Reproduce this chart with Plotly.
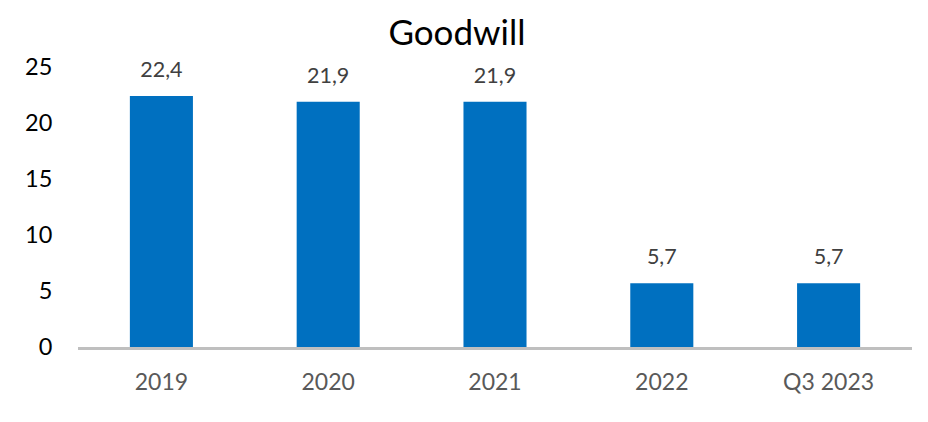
import plotly.graph_objects as go

categories = ["2019", "2020", "2021", "2022", "Q3 2023"]
values = [22.4, 21.9, 21.9, 5.7, 5.7]
labels = ["22,4", "21,9", "21,9", "5,7", "5,7"]
y_ticks = [0, 5, 10, 15, 20, 25]

FONT = "Lato, sans-serif"

fig = go.Figure()
fig.add_trace(go.Bar(
    x=categories, y=values,
    marker=dict(color="#0070C0", line=dict(width=0)),
    hoverinfo="skip",
))
fig.add_trace(go.Scatter(
    x=categories, y=values, mode="markers+text",
    text=labels, textposition="top center", cliponaxis=False,
    textfont=dict(family=FONT, size=21.5, color="#404040"),
    marker=dict(size=20, opacity=0),
    hoverinfo="skip",
))

fig.update_layout(
    width=928, height=422,
    margin=dict(l=70, r=24, t=59, b=83),
    paper_bgcolor="white", plot_bgcolor="white",
    bargap=0.622,
    showlegend=False,
    title=dict(text="Goodwill", x=0.4838, xanchor="center", y=0.941, yanchor="middle",
               font=dict(family=FONT, size=35, color="#000000")),
    font=dict(family=FONT),
)
fig.update_xaxes(
    type="category", automargin=False,
    showline=True, linecolor="#bfbfbf", linewidth=3,
    showgrid=False, ticks="outside", ticklen=12, tickcolor="rgba(0,0,0,0)",
    tickfont=dict(family=FONT, size=23, color="#595959"),
)
fig.update_yaxes(
    automargin=False,
    range=[0, 25], tickvals=y_ticks, showgrid=False, zeroline=False,
    showline=False, ticks="outside", ticklen=20, tickcolor="rgba(0,0,0,0)",
    tickfont=dict(family=FONT, size=23.5, color="#000000"),
)

fig.write_html("out.html")
